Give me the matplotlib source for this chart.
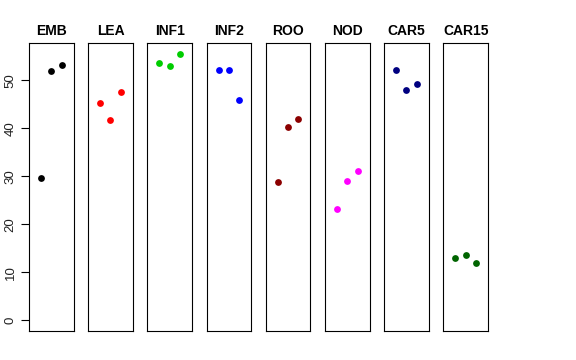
import numpy as np
import matplotlib
matplotlib.use("Agg")
import matplotlib.pyplot as plt

plt.rcParams['font.family'] = ['Liberation Sans', 'DejaVu Sans']

# group names and values
groups = ['EMB', 'LEA', 'INF1', 'INF2', 'ROO', 'NOD', 'CAR5', 'CAR15']
emb = [29.6, 51.9, 53.3]
lea = [45.3, 41.8, 47.5]
inf1 = [53.7, 52.9, 55.5]
inf2 = [52.1, 52.1, 46.0]
roo = [28.8, 40.3, 42.0]
nod = [23.1, 29.0, 31.2]
car5 = [52.1, 47.9, 49.2]
car15 = [13.0, 13.6, 12.0]
values = [emb, lea, inf1, inf2, roo, nod, car5, car15]
colors = ['black', 'red', '#00CD00', 'blue', '#8B0000', 'magenta', '#000080', '#006400']
yticks = [0, 10, 20, 30, 40, 50]

W, H = 576, 360
fig = plt.figure(figsize=(W / 100, H / 100), dpi=100)

ymax = max(max(v) for v in values)
pad = 0.04 * ymax
left0, step, pw = 29.0, 59.2, 44.5
top, bottom = 43.3, 331.0

for i, (name, vals, col) in enumerate(zip(groups, values, colors)):
    x0 = left0 + i * step
    ax = fig.add_axes([x0 / W, 1 - bottom / H, pw / W, (bottom - top) / H])
    xs = np.arange(1, len(vals) + 1)
    ax.scatter(xs, vals, color=col, s=24, zorder=3, linewidths=0)
    ax.set_xlim(0 - 0.16, 4 + 0.16)
    ax.set_ylim(0 - pad, ymax + pad)
    ax.set_xticks([])
    for sp in ax.spines.values():
        sp.set_linewidth(0.8)
        sp.set_color('black')
    ax.set_title(name, fontsize=10, fontweight='bold', pad=6)
    if i == 0:
        ax.set_yticks(yticks)
        ax.tick_params(axis='y', length=6, width=0.8, pad=3, labelsize=9.5,
                       labelcolor='#222222')
        for lab in ax.get_yticklabels():
            lab.set_rotation(90)
            lab.set_va('center')
    else:
        ax.set_yticks([])

fig.savefig('out.png', dpi=100)
